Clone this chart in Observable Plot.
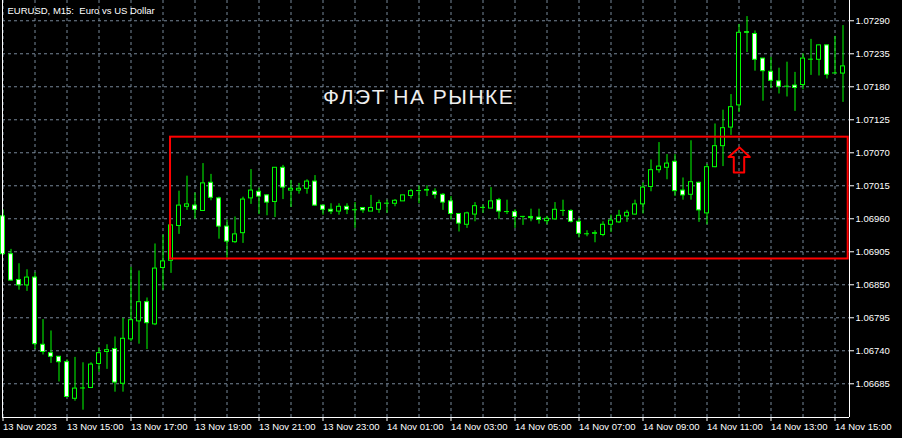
<!DOCTYPE html>
<html><head><meta charset="utf-8">
<script src="https://cdn.jsdelivr.net/npm/d3@7"></script>
<script src="https://cdn.jsdelivr.net/npm/@observablehq/plot@0.6"></script>
<style>
html,body{margin:0;padding:0;background:#000;}
#chart{width:902px;height:438px;overflow:hidden;}
</style></head><body><div id="chart"></div>
<script>
// EURUSD M15 candles, 13 Nov 2023 13:00 .. 14 Nov 15:15 (bar index 0..105)
const opens = [
1.06964,1.06901,1.06858,1.06849,1.06862,1.06750,1.06736,1.06730,1.06721,1.06660,
1.06678,1.06678,1.06718,1.06738,1.06743,1.06685,1.06759,1.06789,1.06821,1.06784,
1.06878,1.06890,1.06948,1.06980,1.06982,1.06973,1.07020,1.06994,1.06947,1.06921,
1.06936,1.06994,1.07005,1.06999,1.06988,1.07045,1.07007,1.07007,1.07010,1.07022,
1.06982,1.06975,1.06972,1.06980,1.06975,1.06978,1.06972,1.06975,1.06986,1.06985,
1.06989,1.06998,1.07007,1.07007,1.07005,1.07000,1.06989,1.06968,1.06950,1.06967,
1.06979,1.06977,1.06991,1.06972,1.06971,1.06964,1.06963,1.06962,1.06956,1.06959,
1.06974,1.06973,1.06955,1.06935,1.06935,1.06933,1.06950,1.06954,1.06964,1.06967,
1.06984,1.07013,1.07041,1.07045,1.07055,1.07007,1.07000,1.07020,1.06969,1.07046,
1.07081,1.07112,1.07149,1.07271,1.07268,1.07227,1.07205,1.07189,1.07181,1.07182,
1.07183,1.07226,1.07225,1.07249,1.07203,1.07202];
const highs = [
1.06975,1.06909,1.06885,1.06875,1.06870,1.06792,1.06773,1.06730,1.06725,1.06729,
1.06720,1.06720,1.06745,1.06750,1.06763,1.06794,1.06879,1.06873,1.06828,1.06918,
1.06933,1.06949,1.07006,1.07031,1.07003,1.07052,1.07034,1.06996,1.06958,1.06963,
1.06996,1.07042,1.07011,1.07000,1.07045,1.07049,1.07024,1.07019,1.07025,1.07032,
1.06982,1.06985,1.06985,1.06985,1.06987,1.06978,1.06999,1.06991,1.06991,1.06992,
1.06999,1.07009,1.07015,1.07015,1.07010,1.07002,1.06997,1.06968,1.06971,1.06987,
1.06983,1.07012,1.06994,1.06991,1.06975,1.06964,1.06976,1.06976,1.06964,1.06987,
1.06991,1.06975,1.06960,1.06940,1.06940,1.06955,1.06966,1.06974,1.06974,1.06991,
1.07020,1.07058,1.07087,1.07067,1.07067,1.07028,1.07090,1.07021,1.07051,1.07118,
1.07141,1.07167,1.07284,1.07297,1.07273,1.07227,1.07229,1.07211,1.07221,1.07204,
1.07235,1.07259,1.07250,1.07249,1.07264,1.07282];
const lows = [
1.06899,1.06856,1.06841,1.06839,1.06742,1.06733,1.06719,1.06688,1.06662,1.06656,
1.06641,1.06677,1.06704,1.06709,1.06671,1.06671,1.06755,1.06751,1.06742,1.06782,
1.06841,1.06869,1.06934,1.06974,1.06959,1.06973,1.06990,1.06926,1.06894,1.06919,
1.06919,1.06984,1.06967,1.06965,1.06962,1.06992,1.06979,1.07001,1.07001,1.06981,
1.06966,1.06967,1.06966,1.06967,1.06944,1.06969,1.06972,1.06969,1.06969,1.06980,
1.06989,1.06993,1.06985,1.06997,1.06993,1.06974,1.06958,1.06938,1.06944,1.06955,
1.06969,1.06977,1.06959,1.06967,1.06944,1.06949,1.06955,1.06951,1.06950,1.06958,
1.06964,1.06953,1.06928,1.06930,1.06920,1.06930,1.06937,1.06952,1.06954,1.06966,
1.06968,1.07005,1.07036,1.07025,1.06997,1.06991,1.06991,1.06954,1.06950,1.07045,
1.07047,1.07099,1.07137,1.07237,1.07206,1.07156,1.07177,1.07168,1.07163,1.07139,
1.07175,1.07199,1.07198,1.07193,1.07202,1.07154];
const closes = [
1.06901,1.06857,1.06849,1.06862,1.06751,1.06738,1.06730,1.06721,1.06663,1.06677,
1.06678,1.06717,1.06736,1.06741,1.06687,1.06760,1.06791,1.06821,1.06786,1.06877,
1.06889,1.06949,1.06982,1.06984,1.06975,1.07019,1.06995,1.06947,1.06922,1.06934,
1.06992,1.07007,1.06997,1.06987,1.07045,1.07012,1.07010,1.07010,1.07022,1.06982,
1.06975,1.06972,1.06980,1.06975,1.06975,1.06974,1.06978,1.06986,1.06986,1.06990,
1.06999,1.07006,1.07007,1.07008,1.07000,1.06987,1.06968,1.06952,1.06969,1.06981,
1.06979,1.06989,1.06972,1.06972,1.06963,1.06964,1.06961,1.06958,1.06960,1.06975,
1.06974,1.06955,1.06935,1.06935,1.06936,1.06950,1.06957,1.06965,1.06970,1.06984,
1.07012,1.07041,1.07047,1.07052,1.07006,1.06999,1.07021,1.06974,1.07046,1.07081,
1.07111,1.07146,1.07270,1.07270,1.07225,1.07206,1.07190,1.07180,1.07181,1.07178,
1.07227,1.07226,1.07249,1.07200,1.07203,1.07214];

const timeLabels = ["13 Nov 2023","13 Nov 15:00","13 Nov 17:00","13 Nov 19:00","13 Nov 21:00",
  "13 Nov 23:00","14 Nov 01:00","14 Nov 03:00","14 Nov 05:00","14 Nov 07:00","14 Nov 09:00",
  "14 Nov 11:00","14 Nov 13:00","14 Nov 15:00"];
const labelBars = [0,8,16,24,32,40,48,56,64,72,80,88,96,104];
const gridBars = [0,4,8,12,16,20,24,28,32,36,40,44,48,52,56,60,64,68,72,76,80,84,88,92,96,100,104];
const priceTicks = [1.06685,1.06740,1.06795,1.06850,1.06905,1.06960,1.07015,1.07070,1.07125,1.07180,1.07235,1.07290];

const chartTitle = "EURUSD, M15:\u00a0 Euro vs US Dollar";
const bannerLabels = ["ФЛЭТ НА РЫНКЕ"];
const bannerBars = [40];
const bannerPrices = [1.07162];

const boxBars = [20.94, 105.65];
const boxPrices = [1.06893, 1.07096];

const arrowBars   = [92.06, 93.35, 92.65, 92.65, 91.35, 91.35, 90.69];
const arrowPrices = [1.07079, 1.07063, 1.07063, 1.07037, 1.07037, 1.07063, 1.07063];

const xDomain = [-0.0625, 105.8125];
const yDomain = [1.066288, 1.073238];

const candles = opens.map((o, i) => ({i, o, h: highs[i], l: lows[i], c: closes[i]}));
const bulls = candles.filter(d => d.c > d.o);
const bears = candles.filter(d => d.c < d.o);
const dojis = candles.filter(d => d.c === d.o);
const banner = bannerLabels.map((t, k) => ({t, x: bannerBars[k], y: bannerPrices[k]}));
const arrow = arrowBars.map((x, k) => ({x, y: arrowPrices[k]}));
const box = [{x1: boxBars[0], x2: boxBars[1], y1: boxPrices[0], y2: boxPrices[1]}];

const GREEN = "#00ff00", GRID = "#778899";
const FONT = "'Liberation Sans', Arial, sans-serif";

const chart = Plot.plot({
  width: 902, height: 438,
  marginLeft: 2, marginRight: 53, marginTop: 0, marginBottom: 21,
  x: {domain: xDomain, axis: null},
  y: {domain: yDomain, axis: null},
  style: {background: "#000", color: "#fff", fontFamily: FONT, fontSize: "9.5px", overflow: "visible"},
  marks: [
    Plot.gridX(gridBars, {stroke: GRID, strokeOpacity: 1, strokeDasharray: "3,3"}),
    Plot.gridY(priceTicks, {stroke: GRID, strokeOpacity: 1, strokeDasharray: "3,3"}),
    Plot.ruleX(candles, {x: "i", y1: "l", y2: "h", stroke: GREEN}),
    Plot.rect(bulls, {x1: d => d.i - 0.25, x2: d => d.i + 0.25, y1: "o", y2: "c", fill: "#000", stroke: GREEN}),
    Plot.rect(bears, {x1: d => d.i - 0.25, x2: d => d.i + 0.25, y1: "o", y2: "c", fill: "#fff", stroke: GREEN}),
    Plot.ruleY(dojis, {x1: d => d.i - 0.3125, x2: d => d.i + 0.3125, y: "o", stroke: GREEN}),
    Plot.rect(box, {x1: "x1", x2: "x2", y1: "y1", y2: "y2", fill: "none", stroke: "#ff0000", strokeWidth: 2}),
    Plot.line(arrow, {x: "x", y: "y", curve: "linear-closed", stroke: "#ff0000", strokeWidth: 2}),
    Plot.ruleX([xDomain[0], xDomain[1]], {stroke: "#fff"}),
    Plot.ruleY([yDomain[0]], {stroke: "#fff"}),
    Plot.axisY(priceTicks, {anchor: "right", tickFormat: d => d.toFixed(5), tickSize: 4, tickPadding: 2, color: "#fff", label: null, fontSize: 9.5}),
    Plot.axisX(labelBars, {anchor: "bottom", tickFormat: d => timeLabels[labelBars.indexOf(d)], textAnchor: "start", tickSize: 4, tickPadding: 2, color: "#fff", label: null, fontSize: 9.5}),
    Plot.text([chartTitle], {frameAnchor: "top-left", text: d => d, dx: 5, dy: 6.5, lineAnchor: "top", textAnchor: "start", fill: "#fff", fontSize: 9.5}),
    Plot.text(banner, {x: "x", y: "y", text: "t", textAnchor: "start", lineAnchor: "middle", fill: "#eeeeee", fontSize: 21})
  ]
});
document.getElementById("chart").appendChild(chart);
d3.select(chart).selectAll("text")
  .filter(function() { return this.textContent === bannerLabels[0]; })
  .attr("letter-spacing", "1.5")
  .style("letter-spacing", "1.5px");
</script>
</body></html>
